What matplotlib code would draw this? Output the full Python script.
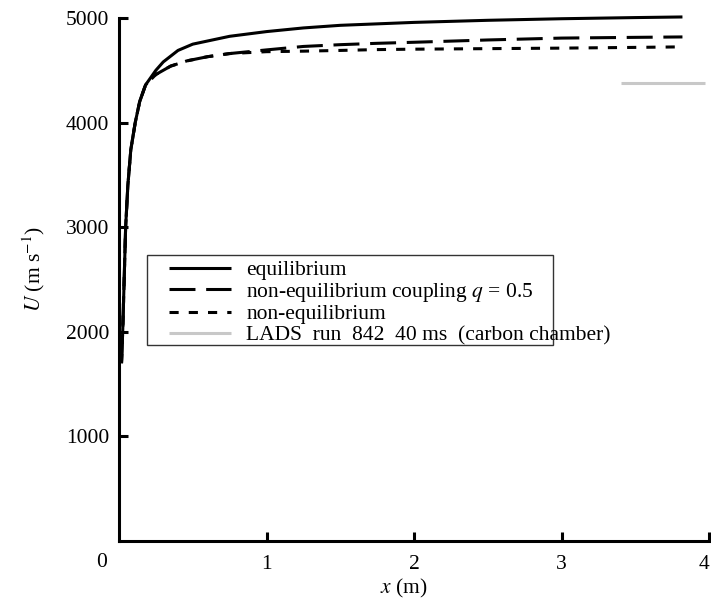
import matplotlib
matplotlib.use("Agg")
import matplotlib.pyplot as plt
from matplotlib.patches import Rectangle

plt.rcParams["font.family"] = ["Liberation Serif", "DejaVu Serif"]
plt.rcParams["mathtext.fontset"] = "stix"

# values
eq_x = [0.017, 0.025, 0.035, 0.045, 0.06, 0.08, 0.11, 0.14, 0.18, 0.25, 0.3, 0.4, 0.5,
        0.75, 1.0, 1.25, 1.5, 2.0, 2.5, 3.0, 3.5, 3.82]
eq_u = [1700, 2000, 2500, 3000, 3400, 3740, 4000, 4200, 4360, 4500, 4580, 4690, 4750,
        4825, 4870, 4905, 4930, 4958, 4978, 4993, 5004, 5010]

cpl_x = [0.017, 0.025, 0.035, 0.045, 0.06, 0.08, 0.11, 0.14, 0.18, 0.25, 0.35, 0.46, 0.6,
         0.75, 1.0, 1.25, 1.5, 1.75, 2.0, 2.5, 3.0, 3.5, 3.82]
cpl_u = [1700, 2000, 2500, 3000, 3400, 3740, 4000, 4200, 4360, 4460, 4540, 4590, 4630,
         4660, 4695, 4728, 4745, 4758, 4768, 4790, 4808, 4815, 4819]

neq_x = [0.017, 0.025, 0.035, 0.045, 0.06, 0.08, 0.11, 0.14, 0.18, 0.25, 0.35, 0.46, 0.6,
         0.75, 1.0, 1.25, 1.5, 1.75, 2.0, 2.5, 3.0, 3.5, 3.82]
neq_u = [1700, 2000, 2500, 3000, 3400, 3740, 4000, 4200, 4360, 4460, 4540, 4590, 4630,
         4660, 4678, 4683, 4690, 4698, 4702, 4707, 4712, 4719, 4724]

lads_x = [3.40, 3.97]
lads_u = [4380, 4380]

labels = ["equilibrium",
          "non-equilibrium coupling $q$ = 0.5",
          "non-equilibrium",
          "LADS  run  842  40 ms  (carbon chamber)"]

fig = plt.figure(figsize=(7.11, 6.01), dpi=100)
ax = fig.add_axes([119 / 711, 1 - 541 / 601, 590 / 711, 523 / 601])

lw = 2.2
ax.plot(eq_x, eq_u, color="black", lw=lw, solid_capstyle="butt", clip_on=False, label=labels[0])
ax.plot(cpl_x, cpl_u, color="black", lw=lw, dashes=(8.5, 3.5), clip_on=False, label=labels[1])
ax.plot(neq_x, neq_u, color="black", lw=lw, dashes=(3.0, 3.3), clip_on=False, label=labels[2])
ax.plot(lads_x, lads_u, color="#c8c8c8", lw=lw, solid_capstyle="butt", clip_on=False, label=labels[3])

ax.set_xlim(0, 4)
ax.set_ylim(0, 5000)
ax.set_xticks([1, 2, 3, 4])
ax.set_yticks([1000, 2000, 3000, 4000, 5000])
ax.spines["top"].set_visible(False)
ax.spines["right"].set_visible(False)
for s in ("left", "bottom"):
    ax.spines[s].set_linewidth(lw)
ax.tick_params(direction="in", length=6.5, width=lw, labelsize=15.5)
ax.tick_params(axis="x", pad=10)
ax.tick_params(axis="y", pad=7)
ax.get_xticklabels()[-1].set_ha("right")
ax.annotate("0", xy=(0, 0), xytext=(-12.5, -15.5), textcoords="offset points",
            ha="center", va="center", fontsize=15.5)

ax.set_xlabel("$x$ (m)", fontsize=15.5)
ax.xaxis.set_label_coords(0.483, -0.068)
ax.set_ylabel("$U$ (m s$^{-1}$)", fontsize=15.5)
ax.yaxis.set_label_coords(-0.122, 0.52)

leg = ax.legend(loc="upper left", bbox_to_anchor=((169 - 119) / 590, (541 - 260) / 523),
                frameon=False, fontsize=15.5, borderpad=0, borderaxespad=0,
                handlelength=2.9, handletextpad=0.7, labelspacing=0.03)

ax.add_patch(Rectangle((0.0475, 0.3748), 0.7356 - 0.0475, 0.5468 - 0.3748,
                       transform=ax.transAxes, fill=False, edgecolor="#333333",
                       lw=1.0, zorder=5))

fig.savefig("out.png", dpi=100)
